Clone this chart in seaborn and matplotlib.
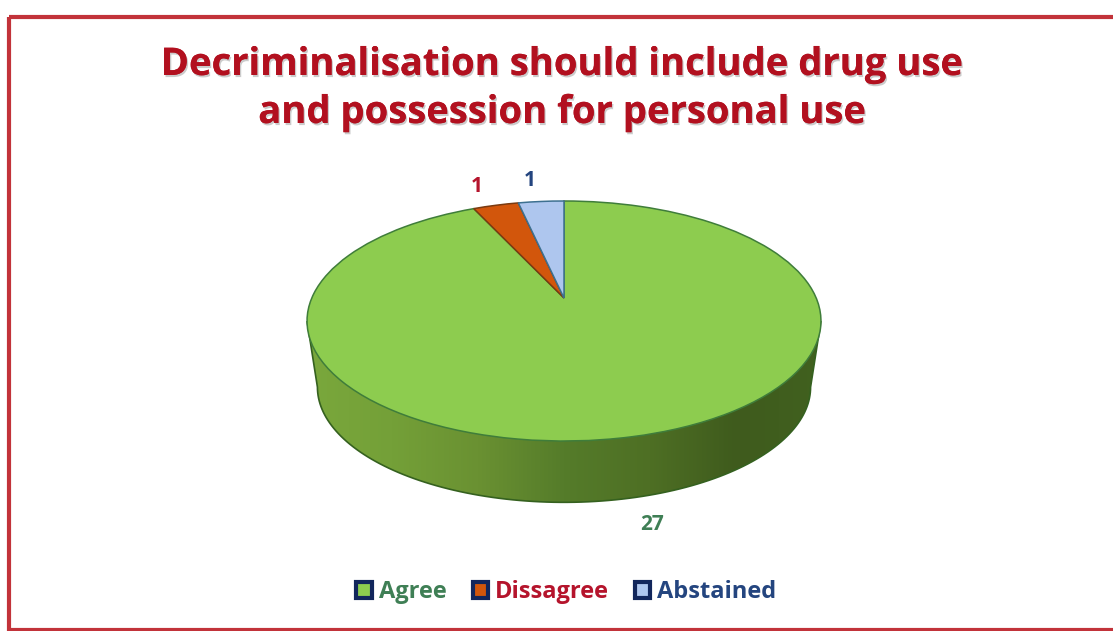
import matplotlib
matplotlib.use("Agg")
import matplotlib.patheffects as pe
import matplotlib.pyplot as plt
import matplotlib.transforms as mtransforms
import numpy as np
import seaborn as sns
from matplotlib.patches import Patch, PathPatch, Rectangle
from matplotlib.path import Path

categories = ["Agree", "Dissagree", "Abstained"]
votes = [27, 1, 1]
slice_colors = ["#8dcc4f", "#d2560c", "#aec6ee"]
slice_edges = ["#3f7d3a", "#7a3a10", "#3d7090"]
text_colors = ["#3f7f55", "#b5142c", "#24457f"]
title_lines = ["Decriminalisation should include drug use", "and possession for personal use"]


class TiltTransform(mtransforms.Transform):
    """Unit circle seen in perspective, output in figure pixels."""

    input_dims = 2
    output_dims = 2
    is_separable = False

    def __init__(self, cx, cy, a, b, k):
        super().__init__()
        self.cx, self.cy, self.a, self.b, self.k = cx, cy, a, b, k

    def transform_non_affine(self, values):
        values = np.asarray(values)
        w = 1 + self.k * values[:, 1]
        return np.column_stack(
            [self.cx + self.a * values[:, 0] / w, self.cy - self.b * values[:, 1] / w]
        )


sns.set_theme(style="white")
plt.rcParams["font.family"] = ["Open Sans", "DejaVu Sans"]

fig = plt.figure(figsize=(11.13, 6.31), dpi=100)
ax = fig.add_axes([0, 0, 1, 1])

k = 0.1917
top = TiltTransform(564, 298, 252.2, 115.6, k)
bottom = TiltTransform(564, 365, 242, 111, k)

wedges, _ = ax.pie(votes, colors=slice_colors, startangle=90, counterclock=False)
for wedge, edge in zip(wedges, slice_edges):
    wedge.set_transform(top + ax.transData)
    wedge.set_edgecolor(edge)
    wedge.set_linewidth(1.1)
    wedge.set_zorder(3)

# side of the disc: horizontal gradient clipped to the extruded outline
theta = np.linspace(np.pi + np.arcsin(k), 2 * np.pi - np.arcsin(k), 120)
circle = np.column_stack([np.cos(theta), np.sin(theta)])
outline = np.vstack(
    [top.transform(circle[:1]), bottom.transform(circle), top.transform(circle[-1:])]
)
side_path = Path(outline, closed=False)
side_shades = sns.blend_palette(
    ["#7aa83c", "#74a038", "#6a9132", "#557c2a", "#4e6f24", "#3f5b1d", "#41611f"], 256
)
side = ax.imshow(
    np.array(side_shades)[None, :, :],
    extent=(305, 823, 510, 300),
    aspect="auto",
    zorder=1,
)
side_patch = PathPatch(side_path, facecolor="none", edgecolor="#35611f", linewidth=1.2, zorder=2)
ax.add_patch(side_patch)
side.set_clip_path(side_patch)

ax.set_aspect("auto")
ax.set_xlim(0, 1113)
ax.set_ylim(631, 0)
ax.axis("off")

ax.add_patch(
    Rectangle((9, 17), 1120, 612.5, facecolor="none", edgecolor="#c2333a", linewidth=3, zorder=5)
)

shadow = [pe.withSimplePatchShadow(offset=(1, -1.5), shadow_rgbFace="#999999", alpha=0.5), pe.Normal()]
for line, y in zip(title_lines, [65, 113]):
    ax.text(
        563, y, line, ha="center", va="center", fontsize=27.5, fontweight="bold",
        color="#b2101f", path_effects=shadow,
    )

for value, color, (x, y) in zip(votes, text_colors, [(652, 524), (477, 187), (530, 180)]):
    ax.text(x, y, str(value), ha="center", va="center", fontsize=15, fontweight="bold", color=color)

handles = [
    Patch(facecolor=color, edgecolor="#12265c", linewidth=3) for color in slice_colors
]
legend = ax.legend(
    handles, categories, ncol=3, loc="center", bbox_to_anchor=(566.5 / 1113, 1 - 592 / 631),
    frameon=False, handlelength=0.65, handleheight=0.65, handletextpad=0.3, columnspacing=1.1,
    prop={"size": 17, "weight": "bold"},
)
for text, color in zip(legend.get_texts(), text_colors):
    text.set_color(color)

fig.savefig("out.png", dpi=100)
